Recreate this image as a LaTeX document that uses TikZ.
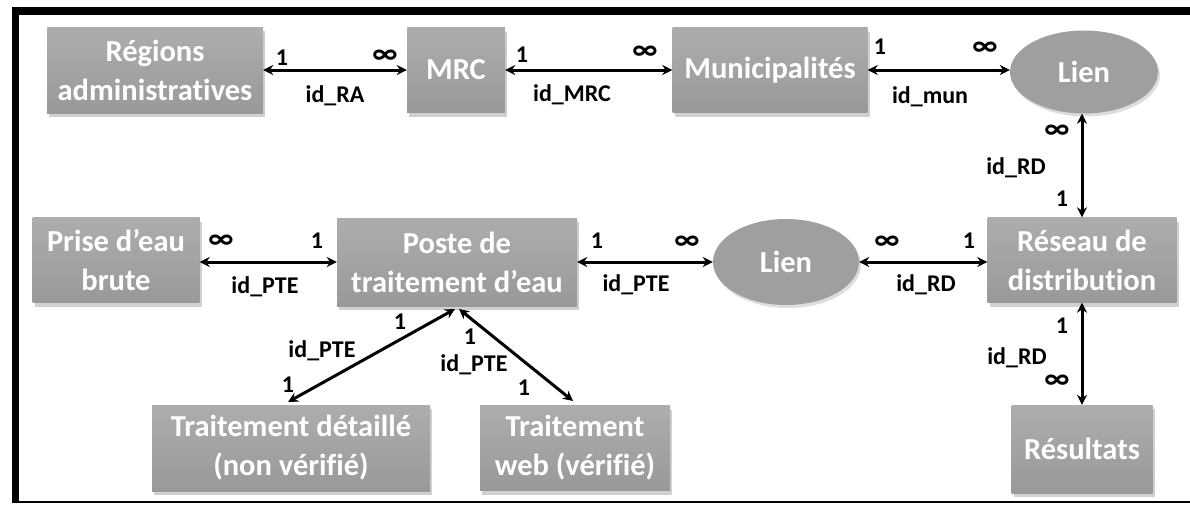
\documentclass[tikz,border=0pt]{standalone}
\usepackage{fontspec}
\setmainfont{Carlito}[Ligatures=NoCommon]
\usetikzlibrary{shapes.geometric,arrows.meta,shadows}
\definecolor{boxtop}{HTML}{ADADAD}
\definecolor{boxbot}{HTML}{999999}
\tikzset{
  ent/.style={rectangle, top color=boxtop, bottom color=boxbot, draw=none,
    text=white, font=\fontsize{30.5}{39}\selectfont\bfseries, align=center,
    inner sep=0pt,
    drop shadow={shadow xshift=2pt, shadow yshift=-4pt, opacity=0.3, fill=black!60}},
  lnk/.style={ellipse, fill=boxtop!92!black, draw=none, text=white,
    font=\fontsize{30.5}{39}\selectfont\bfseries, inner sep=0pt,
    drop shadow={shadow xshift=2pt, shadow yshift=-3pt, opacity=0.22, fill=black!60}},
  rel/.style={{Stealth[length=10pt,width=10pt]}-{Stealth[length=10pt,width=10pt]}, line width=3pt, black},
  lab/.style={font=\fontsize{24}{26}\selectfont\bfseries, text=black, inner sep=0pt},
  inf/.style={font=\fontsize{30}{30}\selectfont\bfseries, text=black, inner sep=0pt},
}
\begin{document}
\begin{tikzpicture}[x=1pt,y=-1pt]
\useasboundingbox (0,0) rectangle (1190,506);
\fill[white] (0,0) rectangle (1190,506);
% frame
\fill[black] (12,7) rectangle (1190,15);
\fill[black] (12,7) rectangle (19,503);
\fill[black] (12,501) rectangle (1190,503);

% entities
\node[ent, minimum width=216pt, minimum height=86pt] (ra) at (155,70) {Régions\\administratives};
\node[ent, minimum width=98pt, minimum height=85pt] (mrc) at (456,70) {MRC};
\node[ent, minimum width=195pt, minimum height=85pt] (mun) at (770,70) {Municipalités};
\node[lnk, minimum width=148pt, minimum height=83pt] (lien1) at (1084,72) {Lien};
\node[ent, minimum width=189pt, minimum height=85pt] (rd) at (1082,260) {Réseau de\\distribution};
\node[lnk, minimum width=146pt, minimum height=86pt] (lien2) at (786,262) {Lien};
\node[ent, minimum width=240pt, minimum height=88pt] (pte) at (457,262) {Poste de\\traitement d’eau};
\node[ent, minimum width=167pt, minimum height=85pt] (peb) at (116,260) {Prise d’eau\\brute};
\node[ent, minimum width=278pt, minimum height=86pt] (td) at (291,448) {Traitement détaillé\\(non vérifié)};
\node[ent, minimum width=190pt, minimum height=85pt] (tw) at (575,448) {Traitement\\web (vérifié)};
\node[ent, minimum width=141pt, minimum height=88pt] (res) at (1082,449) {Résultats};

% connectors
\draw[rel] (ra.east) -- (mrc.west);
\draw[rel] (mrc.east) -- (mun.west);
\draw[rel] (mun.east) -- (mun.east -| lien1.west);
\draw[rel] (rd.north) -- (rd.north |- lien1.south);
\draw[rel] (lien2.east) -- (rd.west |- lien2.east);
\draw[rel] (pte.east) -- (lien2.west);
\draw[rel] (peb.east |- pte.west) -- (pte.west);
\draw[rel] (rd.south) -- (res.north);
\coordinate (ptea) at (455,309);
\coordinate (pteb) at (459,309);
\coordinate (tdtop) at (288,402);
\coordinate (twtop) at (573,401);
\draw[rel] (ptea) -- (tdtop);
\draw[rel] (pteb) -- (twtop);

% labels
\node[lab] (l1a) at (282,58) {1};
\node[inf] (l1b) at (385,57) {∞};
\node[lab] (l1c) at (335,96) {id\_RA};
\node[lab] (l2a) at (522,55) {1};
\node[inf] (l2b) at (645,53) {∞};
\node[lab] (l2c) at (572,95) {id\_MRC};
\node[lab] (l3a) at (880,47) {1};
\node[inf] (l3b) at (985,49) {∞};
\node[lab] (l3c) at (930,97) {id\_mun};
\node[inf] (l4a) at (1057,132) {∞};
\node[lab] (l4b) at (1016,168) {id\_RD};
\node[lab] (l4c) at (1062,199) {1};
\node[inf] (l5a) at (887,243) {∞};
\node[lab] (l5b) at (969,241) {1};
\node[lab] (l5c) at (926,285) {id\_RD};
\node[lab] (l6a) at (597,241) {1};
\node[inf] (l6b) at (687,243) {∞};
\node[lab] (l6c) at (636,285) {id\_PTE};
\node[inf] (l7a) at (221,242) {∞};
\node[lab] (l7b) at (317,241) {1};
\node[lab] (l7c) at (265,287) {id\_PTE};
\node[lab] (l8a) at (1062,326) {1};
\node[lab] (l8b) at (1017,358) {id\_RD};
\node[inf] (l8c) at (1057,382) {∞};
\node[lab] (l9a) at (400,322) {1};
\node[lab] (l9b) at (322,351) {id\_PTE};
\node[lab] (l9c) at (288,385) {1};
\node[lab] (l10a) at (470,337) {1};
\node[lab] (l10b) at (474,365) {id\_PTE};
\node[lab] (l10c) at (524,388) {1};
\end{tikzpicture}
\end{document}
